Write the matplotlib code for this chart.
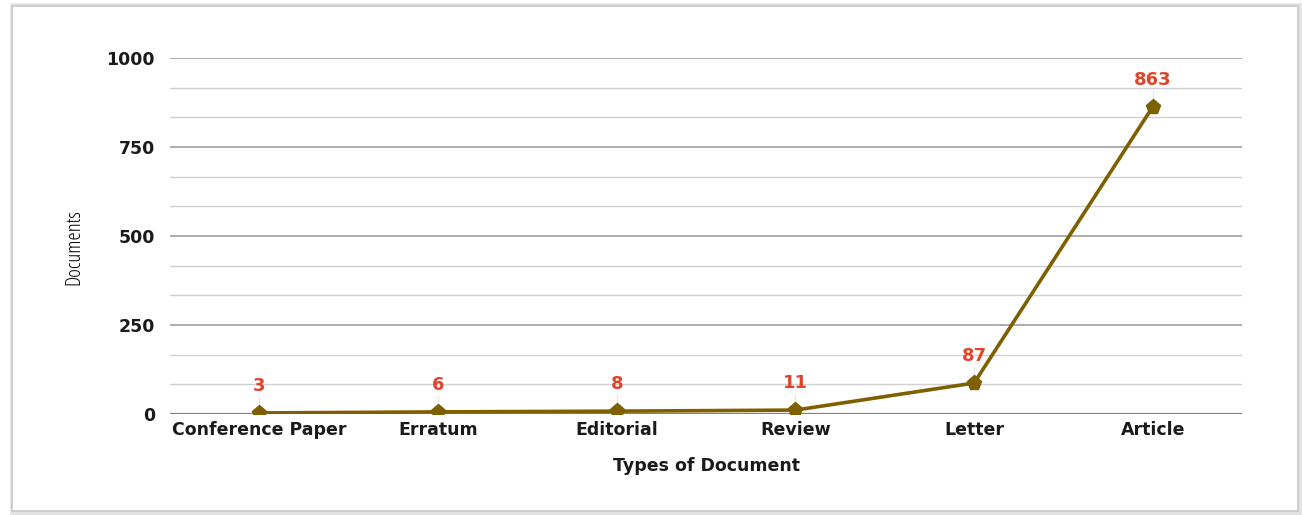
import matplotlib.pyplot as plt
from matplotlib.patches import Rectangle

# data
doc_types = ['Conference Paper', 'Erratum', 'Editorial', 'Review', 'Letter', 'Article']
documents = [3, 6, 8, 11, 87, 863]
y_ticks = [0, 250, 500, 750, 1000]

line_color = '#7f6000'
label_color = '#e0442c'

fig = plt.figure(figsize=(13.02, 5.15), dpi=100)

# frame with a soft shadow round the chart
fig.patches.append(Rectangle((0.010, 0.004), 0.988, 0.984, transform=fig.transFigure,
                             facecolor='none', edgecolor='#e2e2e2', linewidth=4, zorder=-5))
fig.patches.append(Rectangle((0.009, 0.008), 0.988, 0.980, transform=fig.transFigure,
                             facecolor='white', edgecolor='#c8c8c8', linewidth=1.2, zorder=-4))

ax = fig.add_axes([0.1306, 0.1961, 0.8234, 0.6913])
ax.patch.set_visible(False)
x = list(range(len(doc_types)))

# grid: darker lines at the tick values, lighter ones in between
for v in [i * 250 / 3 for i in range(13)]:
    major = abs(v / 250 - round(v / 250)) < 1e-6
    ax.axhline(v, color='#a6a6a6' if major else '#d0d0d0',
               linewidth=1.3 if major else 1.0, zorder=0)
ax.axhline(0, color='#7f7f7f', linewidth=1.6, zorder=1)

ax.plot(x, documents, color=line_color, linewidth=2.6, marker='p',
        markersize=11, markeredgecolor=line_color, zorder=3)

# value labels with thin leader lines
for xi, v in zip(x, documents):
    ax.plot([xi, xi], [v, v + 45], color='#e6e6e6', linewidth=1, zorder=2)
    ax.annotate(str(v), (xi, v), xytext=(0, 13), textcoords='offset points',
                ha='center', va='bottom', color=label_color,
                fontsize=13, fontweight='bold', zorder=4)

ax.set_xlim(-0.5, len(doc_types) - 0.5)
ax.set_ylim(0, 1000)
ax.set_xticks(x)
ax.set_xticklabels(doc_types, fontsize=12.5, fontweight='bold', color='#1a1a1a')
ax.set_yticks(y_ticks)
ax.set_yticklabels([str(t) for t in y_ticks], fontsize=12.5, fontweight='bold', color='#1a1a1a')
ax.tick_params(axis='x', length=0, pad=5)
ax.tick_params(axis='y', length=0, pad=11)
for s in ax.spines.values():
    s.set_visible(False)

ax.set_xlabel('Types of Document', fontsize=12.5, fontweight='bold', color='#1a1a1a', labelpad=13)
ax.set_ylabel('Documents', fontsize=15, color='#000000', family='Open Sans',
              fontstretch='condensed')
ax.yaxis.set_label_coords(-0.08, 0.47)

fig.savefig('out.png', dpi=100)
